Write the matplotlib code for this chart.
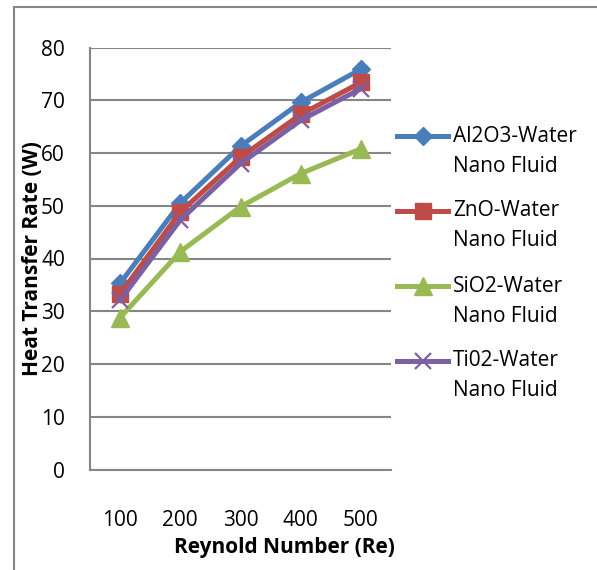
import matplotlib
matplotlib.use("Agg")
import matplotlib.pyplot as plt
from matplotlib.lines import Line2D

# values
reynolds = ["100", "200", "300", "400", "500"]
al2o3 = [35.3, 50.5, 61.3, 69.6, 75.9]
zno = [33.3, 48.8, 59.2, 67.3, 73.4]
sio2 = [28.8, 41.3, 49.8, 56.1, 60.8]
tio2 = [32.1, 47.3, 58.0, 66.2, 72.2]

names = ["Al2O3-Water\nNano Fluid", "ZnO-Water\nNano Fluid",
         "SiO2-Water\nNano Fluid", "Ti02-Water\nNano Fluid"]
colors = ["#4A7EBB", "#BE4B48", "#98B954", "#7D60A0"]
markers = ["D", "s", "^", "x"]
msizes = [9, 12, 13, 11]

plt.rcParams['font.family'] = ['Open Sans', 'DejaVu Sans']
grey = "#868686"

fig = plt.figure(figsize=(5.97, 5.70), dpi=100)
ax = fig.add_axes([90 / 597, 1 - 469.5 / 570, 301 / 597, 422 / 570])

x = range(len(reynolds))
for vals, col, mk, ms in zip([al2o3, zno, sio2, tio2], colors, markers, msizes):
    ax.plot(x, vals, color=col, lw=3.6, marker=mk, ms=ms,
            mec=col, mfc=col, mew=1.6 if mk == "x" else 1)

ax.set_xlim(-0.5, 4.5)
ax.set_ylim(0, 80)
ax.set_yticks(range(0, 81, 10))
ax.set_xticks(list(x))
ax.set_xticklabels(reynolds)
ax.tick_params(length=0, labelsize=15)
ax.tick_params(axis="x", pad=29)
ax.tick_params(axis="y", pad=18)
ax.grid(axis="y", color=grey, lw=1.5)
ax.set_axisbelow(True)
for side in ["top", "right"]:
    ax.spines[side].set_visible(False)
for side in ["left", "bottom"]:
    ax.spines[side].set_color(grey)
    ax.spines[side].set_linewidth(1.5)

ax.set_xlabel("Reynold Number (Re)", fontsize=15, fontweight="bold")
ax.set_ylabel("Heat Transfer Rate (W)", fontsize=15, fontweight="bold")
ax.xaxis.set_label_coords(0.645, -0.16)
ax.yaxis.set_label_coords(-0.157, 0.5)

# legend drawn by hand to get the Excel-like layout
for i, (name, col, mk, ms) in enumerate(zip(names, colors, markers, msizes)):
    yy = 1 - (136 + 75 * i) / 570
    fig.add_artist(Line2D([397 / 597, 448 / 597], [yy, yy], color=col, lw=3.6))
    fig.add_artist(Line2D([422.5 / 597], [yy], color=col, marker=mk, ms=ms,
                          mec=col, mfc=col, mew=1.6 if mk == "x" else 1))
    for j, part in enumerate(name.split("\n")):
        fig.text(453 / 597, yy - 30 * j / 570, part, fontsize=15,
                 va="center", ha="left")

# outer frame of the chart
fig.add_artist(Line2D([14 / 597, 14 / 597], [0, 1 - 7 / 570], color=grey, lw=1.5))
fig.add_artist(Line2D([14 / 597, 1], [1 - 7 / 570, 1 - 7 / 570], color=grey, lw=1.5))

fig.savefig("out.png", dpi=100)
